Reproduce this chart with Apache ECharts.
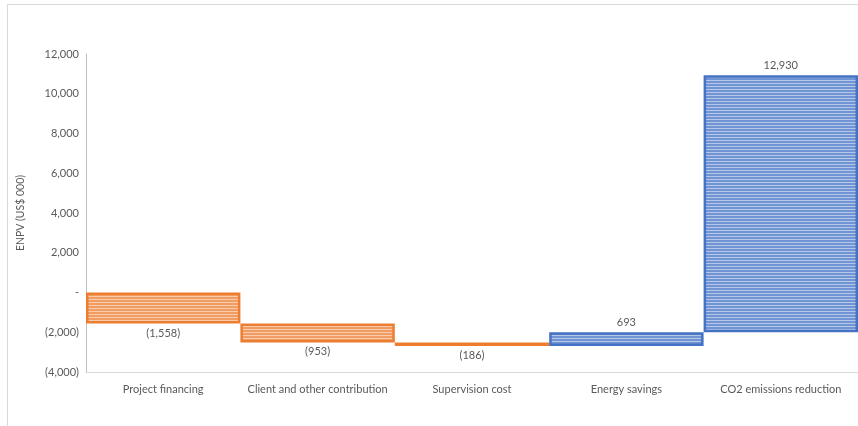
<!DOCTYPE html>
<html>
<head>
<meta charset="utf-8">
<script src="https://cdn.jsdelivr.net/npm/echarts@6/dist/echarts.min.js"></script>
<style>
  html, body { margin: 0; padding: 0; background: #fff; }
  #chart { width: 858px; height: 426px; }
</style>
</head>
<body>
<div id="chart"></div>
<script>
const categories = ['Project financing', 'Client and other contribution', 'Supervision cost', 'Energy savings', 'CO2 emissions reduction']
const values = [-1558, -953, -186, 693, 12930]
const valueLabels = ['(1,558)', '(953)', '(186)', '693', '12,930']
const yTicks = { min: -4000, max: 12000, interval: 2000 }

// striped fill like the Excel pattern
function stripes(dark, light) {
  const c = document.createElement('canvas')
  c.width = 4
  c.height = 3
  const ctx = c.getContext('2d')
  ctx.fillStyle = dark
  ctx.fillRect(0, 0, 4, 3)
  ctx.fillStyle = light
  ctx.fillRect(0, 2, 4, 1)
  return { image: c, repeat: 'repeat' }
}
const orangeFill = stripes('#F19C63', '#F8CBAD')
const blueFill = stripes('#7094D4', '#B4C7E7')

// waterfall: invisible base + visible delta
let running = 0
const baseData = []
const deltaData = []
values.forEach((v, i) => {
  const start = running
  const end = running + v
  running = end
  baseData.push(Math.min(start, end))
  const neg = v < 0
  deltaData.push({
    value: Math.abs(v),
    itemStyle: {
      color: neg ? orangeFill : blueFill,
      borderColor: neg ? '#ED7D31' : '#4472C4',
      borderWidth: 2.5
    },
    label: {
      show: true,
      position: neg ? 'bottom' : 'top',
      distance: 4,
      formatter: valueLabels[i]
    }
  })
})

function fmtTick(v) {
  if (v === 0) return '-'
  const s = Math.abs(v).toLocaleString('en-US')
  return v < 0 ? '(' + s + ')' : s
}

const chart = echarts.init(document.getElementById('chart'))
chart.setOption({
  animation: false,
  backgroundColor: '#fff',
  textStyle: { fontFamily: 'Lato, "Open Sans", sans-serif' },
  graphic: [{
    type: 'rect',
    shape: { x: 7.5, y: 4.5, width: 900, height: 500 },
    style: { fill: 'none', stroke: '#D9D9D9', lineWidth: 1 },
    silent: true
  }],
  grid: { left: 86, right: 0, top: 54, bottom: 54 },
  xAxis: {
    type: 'category',
    data: categories,
    position: 'bottom',
    axisLine: { onZero: false, lineStyle: { color: '#D9D9D9', width: 1 } },
    axisTick: { show: false },
    axisLabel: { color: '#595959', fontSize: 11, margin: 12, interval: 0 },
    splitLine: { show: false }
  },
  yAxis: {
    type: 'value',
    min: yTicks.min,
    max: yTicks.max,
    interval: yTicks.interval,
    name: 'ENPV (US$ 000)',
    nameLocation: 'middle',
    nameRotate: 90,
    nameGap: 60,
    nameTextStyle: { color: '#595959', fontSize: 10.5 },
    axisLine: { show: true, lineStyle: { color: '#BFBFBF', width: 1 } },
    axisTick: { show: false },
    axisLabel: { color: '#595959', fontSize: 11, margin: 7, formatter: fmtTick },
    splitLine: { show: false }
  },
  series: [
    {
      name: 'base',
      type: 'bar',
      stack: 'wf',
      stackStrategy: 'all',
      barCategoryGap: '0%',
      itemStyle: { color: 'transparent' },
      silent: true,
      data: baseData
    },
    {
      name: 'delta',
      type: 'bar',
      stack: 'wf',
      stackStrategy: 'all',
      barCategoryGap: '0%',
      label: { color: '#595959', fontSize: 11 },
      data: deltaData
    }
  ]
})
</script>
</body>
</html>
